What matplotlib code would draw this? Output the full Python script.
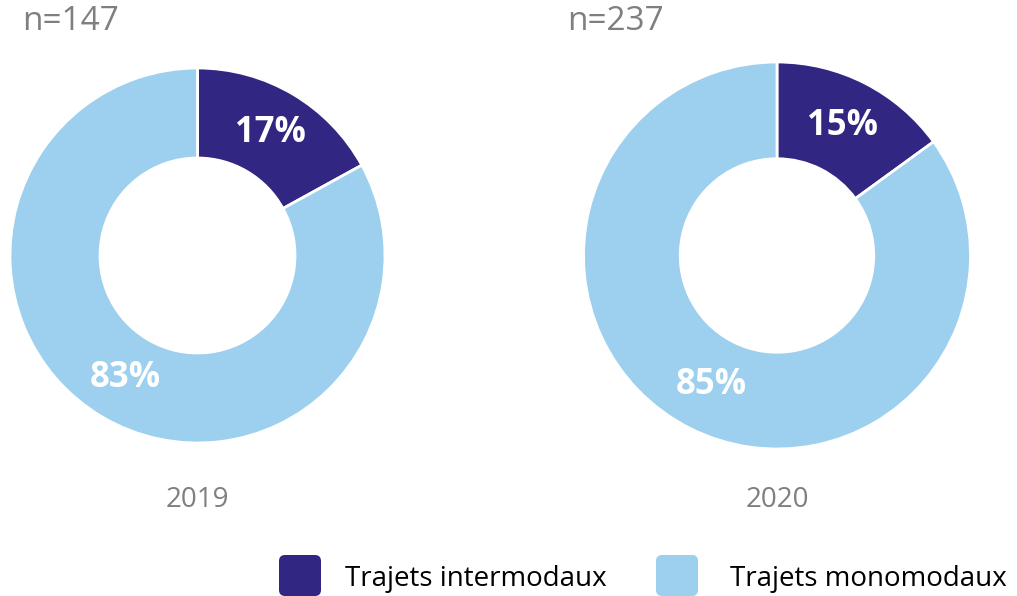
import matplotlib.pyplot as plt
from matplotlib.patches import FancyBboxPatch
from matplotlib.transforms import IdentityTransform

plt.rcParams['font.family'] = ['Open Sans', 'DejaVu Sans']

years = ['2019', '2020']
sample_sizes = [147, 237]
categories = ['Trajets intermodaux', 'Trajets monomodaux']
intermodal = [17, 15]
monomodal = [83, 85]

colors = ['#312783', '#9dcfee']
gray = '#7f7f7f'

W, H = 1017, 596
fig = plt.figure(figsize=(W / 100, H / 100), dpi=100)

# donut placement in pixels: (center x, center y from top, outer radius, ring width, n label x)
layout = [(197.5, 255.5, 187.5, 0.48, 22), (777, 255.5, 193.5, 0.50, 567)]

for i, (cx, cy, r, w, nx) in enumerate(layout):
    ax = fig.add_axes([(cx - r) / W, (H - cy - r) / H, 2 * r / W, 2 * r / H])
    vals = [intermodal[i], monomodal[i]]
    ax.pie(vals, colors=colors, startangle=90, counterclock=False,
           wedgeprops=dict(width=w, edgecolor='white', linewidth=2),
           autopct=lambda p: f'{p:.0f}%', pctdistance=1 - w / 2,
           textprops=dict(color='white', fontsize=25, fontweight='bold'))
    ax.set_xlim(-1, 1)
    ax.set_ylim(-1, 1)
    ax.set_aspect('equal')
    ax.axis('off')
    fig.text(nx / W, (H - 21) / H, f'n={sample_sizes[i]}',
             color=gray, fontsize=24, ha='left', va='center')
    fig.text(cx / W, (H - 500) / H, years[i], color=gray, fontsize=20,
             ha='center', va='center')

# legend with rounded squares
legend_x = [(279, 345), (656, 730)]
for (bx, tx), cat, col in zip(legend_x, categories, colors):
    box = FancyBboxPatch((bx, 0), 42, 41, boxstyle='round,pad=0,rounding_size=6',
                         transform=IdentityTransform(), facecolor=col,
                         edgecolor='none')
    fig.patches.append(box)
    fig.text(tx / W, 17 / H, cat, color='black', fontsize=20,
             ha='left', va='center')

fig.savefig('out.png', dpi=100)
